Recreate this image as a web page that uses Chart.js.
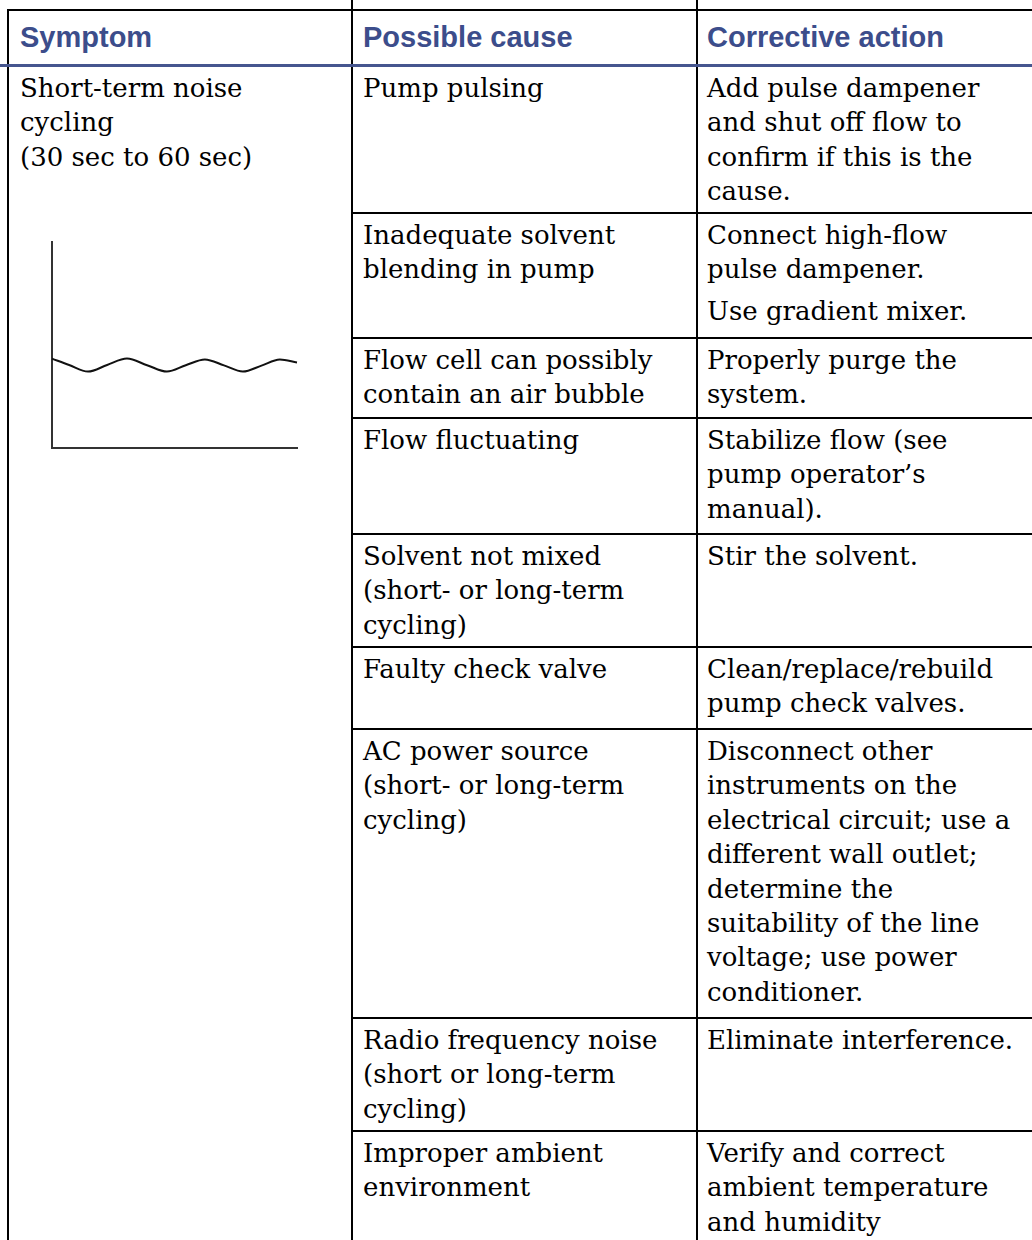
<!DOCTYPE html>
<html>
<head>
<meta charset="utf-8">
<script src="https://cdn.jsdelivr.net/npm/chart.js@4.4.1/dist/chart.umd.min.js"></script>
<style>
  html, body { margin: 0; padding: 0; background: #fff; }
  #page { position: relative; width: 1032px; height: 1240px; overflow: hidden; background: #fff; }
  .hl, .vl { position: absolute; background: #000; }
  .head { position: absolute; font-family: "Liberation Sans", Arial, sans-serif; font-weight: bold; font-size: 29px; color: #3c4d8b; line-height: 34px; white-space: nowrap; }
  .cell { position: absolute; font-family: "DejaVu Serif", serif; font-size: 26px; line-height: 34.4px; color: #000; white-space: nowrap; }
  .cell p { margin: 0; }
  .cell p + p { margin-top: 7.5px; }
  #chartBox { position: absolute; left: 40px; top: 232px; width: 270px; height: 225px; }
</style>
</head>
<body>
<div id="page">
  <div id="chartBox"><canvas id="wave"></canvas></div>
</div>
<script>
// ---- table content ----
const headers = ["Symptom", "Possible cause", "Corrective action"];
const symptomLines = ["Short-term noise", "cycling", "(30 sec to 60 sec)"];
const causes = [
  ["Pump pulsing"],
  ["Inadequate solvent", "blending in pump"],
  ["Flow cell can possibly", "contain an air bubble"],
  ["Flow fluctuating"],
  ["Solvent not mixed", "(short- or long-term", "cycling)"],
  ["Faulty check valve"],
  ["AC power source", "(short- or long-term", "cycling)"],
  ["Radio frequency noise", "(short or long-term", "cycling)"],
  ["Improper ambient", "environment"]
];
const actions = [
  [["Add pulse dampener", "and shut off flow to", "confirm if this is the", "cause."]],
  [["Connect high-flow", "pulse dampener."], ["Use gradient mixer."]],
  [["Properly purge the", "system."]],
  [["Stabilize flow (see", "pump operator\u2019s", "manual)."]],
  [["Stir the solvent."]],
  [["Clean/replace/rebuild", "pump check valves."]],
  [["Disconnect other", "instruments on the", "electrical circuit; use a", "different wall outlet;", "determine the", "suitability of the line", "voltage; use power", "conditioner."]],
  [["Eliminate interference."]],
  [["Verify and correct", "ambient temperature", "and humidity"]]
];

// ---- wave sketch values (x: 0-100 along axis, y: 0-100 up the axis) ----
const waveX = [0, 7, 14.7, 22.5, 30.6, 38.8, 46.9, 54.6, 62.4, 70.2, 77.9, 85.5, 93, 100];
const waveY = [43.4, 40.3, 37.1, 40.3, 43.4, 40.2, 37.1, 40.2, 43.0, 40.1, 37.1, 40.0, 43.0, 41.5];

// ---- layout ----
const page = document.getElementById('page');
const textX = [20, 363, 707];
const rowTops = [66, 213, 338, 418, 534, 647, 729, 1018, 1131];

function addDiv(cls, style, html) {
  const d = document.createElement('div');
  d.className = cls;
  Object.assign(d.style, style);
  if (html !== undefined) d.innerHTML = html;
  page.appendChild(d);
  return d;
}
// borders
addDiv('hl', { left: '7px', top: '9px', width: '1025px', height: '2px' });
addDiv('vl', { left: '7px', top: '9px', width: '2px', height: '1231px' });
addDiv('vl', { left: '351px', top: '0px', width: '2px', height: '1240px' });
addDiv('vl', { left: '696px', top: '0px', width: '2px', height: '1240px' });
addDiv('hl', { left: '0px', top: '64px', width: '1032px', height: '3px', background: '#46568f' });
rowTops.slice(1).forEach(y => addDiv('hl', { left: '352px', top: (y - 1) + 'px', width: '680px', height: '2px' }));

// headers
headers.forEach((h, i) => addDiv('head', { left: textX[i] + 'px', top: '20px' }, h));
// symptom
addDiv('cell', { left: textX[0] + 'px', top: (rowTops[0] + 5) + 'px' }, symptomLines.join('<br>'));
// causes and actions
causes.forEach((lines, r) => {
  addDiv('cell', { left: textX[1] + 'px', top: (rowTops[r] + 5) + 'px' }, lines.join('<br>'));
  addDiv('cell', { left: textX[2] + 'px', top: (rowTops[r] + 5) + 'px' },
    actions[r].map(p => '<p>' + p.join('<br>') + '</p>').join(''));
});

// ---- chart ----
new Chart(document.getElementById('wave'), {
  type: 'line',
  data: {
    datasets: [{
      data: waveX.map((x, i) => ({ x: x, y: waveY[i] })),
      borderColor: '#111',
      borderWidth: 2,
      pointRadius: 0,
      cubicInterpolationMode: 'monotone',
      fill: false,
      clip: false
    }]
  },
  options: {
    responsive: true,
    maintainAspectRatio: false,
    animation: false,
    layout: { padding: { left: 4, right: 13, top: 10, bottom: 1 } },
    plugins: { legend: { display: false }, tooltip: { enabled: false } },
    scales: {
      x: {
        type: 'linear', min: 0, max: 100,
        grid: { display: false },
        ticks: { display: false },
        border: { display: true, color: '#333', width: 2 }
      },
      y: {
        type: 'linear', min: 0, max: 100,
        grid: { display: false },
        ticks: { display: false },
        border: { display: true, color: '#333', width: 2 }
      }
    }
  }
});
</script>
</body>
</html>
